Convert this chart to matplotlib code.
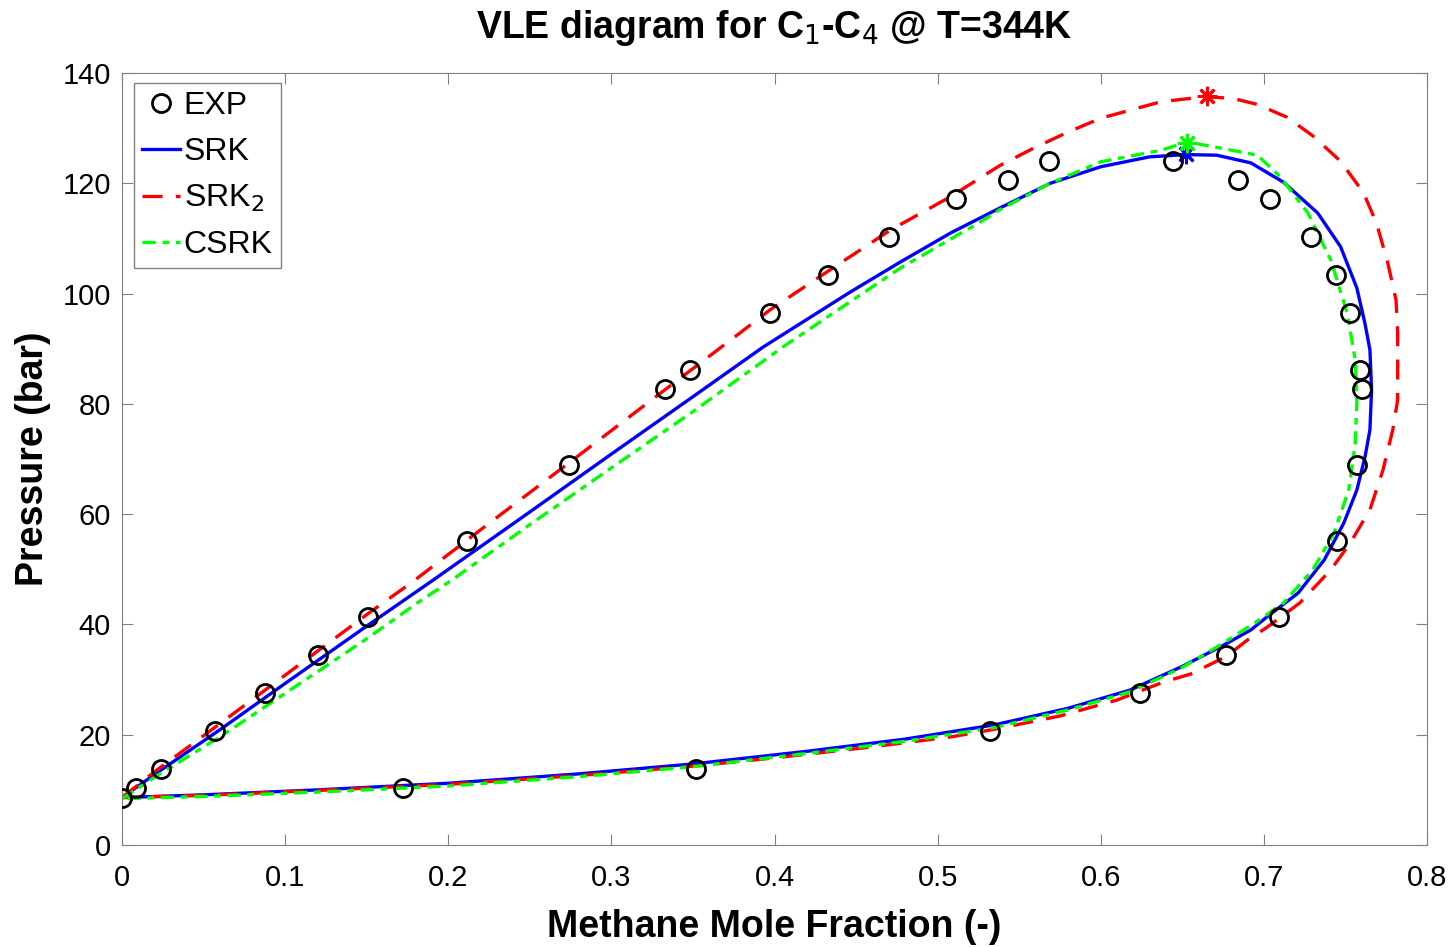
import numpy as np
import matplotlib
matplotlib.use("Agg")
import matplotlib.pyplot as plt

plt.rcParams['font.family'] = ['Liberation Sans', 'DejaVu Sans']

# Экспериментальные данные (мольная доля метана, давление в бар)
exp_x = [0.0, 0.0086, 0.024, 0.057, 0.0877, 0.120, 0.151, 0.2115, 0.274, 0.333, 0.348,
         0.397, 0.433, 0.470, 0.511, 0.543, 0.568, 0.644,
         0.684, 0.704, 0.729, 0.744, 0.753, 0.759, 0.760, 0.757, 0.745, 0.709, 0.677,
         0.624, 0.532, 0.352, 0.172]
exp_p = [8.5, 10.34, 13.79, 20.68, 27.58, 34.47, 41.37, 55.16, 68.95, 82.74, 86.18,
         96.53, 103.42, 110.32, 117.21, 120.66, 124.11, 124.11,
         120.66, 117.21, 110.32, 103.42, 96.53, 86.18, 82.74, 68.95, 55.16, 41.37, 34.47,
         27.58, 20.68, 13.79, 10.34]

# SRK: кривая кипения + кривая конденсации
srk_x = [0.0, 0.02, 0.06, 0.10, 0.15, 0.191, 0.25, 0.30, 0.35, 0.393, 0.446, 0.477,
         0.508, 0.538, 0.569, 0.600, 0.630, 0.652,
         0.671, 0.692, 0.712, 0.733, 0.747, 0.757, 0.762, 0.765, 0.766, 0.765, 0.762,
         0.757, 0.749, 0.737, 0.721, 0.702, 0.692, 0.675, 0.650, 0.618, 0.580, 0.535,
         0.48, 0.42, 0.35, 0.28, 0.20, 0.12, 0.05, 0.0]
srk_p = [8.6, 12.8, 20.9, 29.3, 39.7, 48.1, 60.4, 70.9, 81.3, 90.3, 100.2, 105.7,
         111.0, 115.5, 120.0, 123.0, 124.8, 125.2,
         125.1, 123.7, 120.2, 114.6, 108.5, 101.0, 94.5, 89.8, 82.5, 75.3, 70.4,
         64.4, 58.4, 51.7, 45.7, 41.4, 39.0, 36.2, 32.4, 28.1, 24.8, 21.8,
         19.2, 17.0, 14.7, 12.9, 11.2, 10.0, 9.1, 8.6]
srk_crit = (0.652, 125.3)

# SRK_2
srk2_x = [0.0, 0.02, 0.06, 0.10, 0.151, 0.178, 0.2115, 0.274, 0.333, 0.379, 0.397,
          0.434, 0.471, 0.508, 0.538, 0.559, 0.580, 0.600, 0.637, 0.664,
          0.681, 0.696, 0.714, 0.730, 0.747, 0.761, 0.769, 0.776, 0.781, 0.782, 0.782,
          0.782, 0.779, 0.773, 0.765, 0.753, 0.741, 0.722, 0.702, 0.690, 0.677,
          0.655, 0.638, 0.610, 0.575, 0.535, 0.508, 0.46, 0.40, 0.35, 0.28, 0.20,
          0.12, 0.05, 0.0]
srk2_p = [8.6, 13.3, 22.0, 30.8, 42.0, 47.7, 55.3, 69.3, 82.6, 92.9, 97.0,
          104.3, 111.5, 117.6, 123.2, 126.4, 129.3, 131.8, 134.8, 135.7,
          135.4, 134.3, 132.0, 128.6, 124.0, 118.3, 112.8, 105.5, 98.8, 93.0, 88.0,
          80.7, 75.3, 68.0, 60.8, 54.8, 49.9, 43.9, 39.5, 37.2, 34.2,
          31.0, 29.5, 26.3, 23.4, 21.0, 19.6, 17.8, 15.8, 14.3, 12.6, 11.0,
          9.9, 9.0, 8.6]
srk2_crit = (0.665, 135.8)

# CSRK
csrk_x = [0.0, 0.02, 0.06, 0.10, 0.15, 0.183, 0.201, 0.25, 0.30, 0.35, 0.405, 0.477,
          0.528, 0.538, 0.569, 0.600, 0.637, 0.653,
          0.675, 0.696, 0.710, 0.727, 0.741, 0.751, 0.756, 0.757, 0.756, 0.752, 0.743,
          0.730, 0.712, 0.695, 0.675, 0.650, 0.618, 0.580, 0.535, 0.48,
          0.42, 0.35, 0.28, 0.20, 0.12, 0.05, 0.0]
csrk_p = [8.4, 12.3, 19.6, 27.5, 37.4, 44.3, 47.8, 58.1, 68.4, 78.6, 90.3, 104.6,
          113.3, 115.2, 120.0, 123.9, 126.0, 127.5,
          126.3, 125.1, 121.2, 114.6, 106.1, 96.5, 88.0, 80.7, 72.9, 64.4, 56.6,
          49.9, 43.9, 40.4, 36.6, 32.2, 27.8, 24.5, 21.3, 18.8,
          16.6, 14.2, 12.4, 10.7, 9.6, 8.8, 8.4]
csrk_crit = (0.653, 127.3)

fig = plt.figure(figsize=(14.56, 9.47), dpi=100)
ax = fig.add_axes([0.0838, 0.1077, 0.8963, 0.8152])

ax.plot(exp_x, exp_p, 'o', color='k', markerfacecolor='none', markersize=13,
        markeredgewidth=2, label='EXP', zorder=4)
ax.plot(srk_x, srk_p, '-', color='#0000FF', linewidth=2.4, label='SRK')
ax.plot(srk2_x, srk2_p, '--', color='#FF0000', linewidth=2.4, dashes=(6, 4),
        label='SRK$_2$')
ax.plot(csrk_x, csrk_p, '-.', color='#00FF00', linewidth=2.4, dashes=(4, 2, 2, 2),
        label='CSRK')

# критические точки (звёздочка как в MATLAB)
star = (8, 2, 0)
ax.plot(*srk_crit, marker=star, color='#0000FF', markersize=14, markeredgewidth=2)
ax.plot(*srk2_crit, marker=star, color='#FF0000', markersize=14, markeredgewidth=2)
ax.plot(*csrk_crit, marker=star, color='#00FF00', markersize=14, markeredgewidth=2)

ax.set_xlim(0, 0.8)
ax.set_ylim(0, 140)
ax.set_xticks(np.arange(0, 0.81, 0.1))
ax.set_xticklabels(['0', '0.1', '0.2', '0.3', '0.4', '0.5', '0.6', '0.7', '0.8'])
ax.set_yticks(np.arange(0, 141, 20))
ax.tick_params(direction='in', top=True, right=True, labelsize=21, length=8,
               color='#808080')
ax.tick_params(axis='x', pad=14)
ax.tick_params(axis='y', pad=8)
for s in ax.spines.values():
    s.set_color('#808080')

ax.set_xlabel('Methane Mole Fraction (-)', fontsize=27, fontweight='bold', labelpad=12)
ax.set_ylabel('Pressure (bar)', fontsize=27, fontweight='bold', labelpad=8)
ax.set_title('VLE diagram for C$_1$-C$_4$ @ T=344K', fontsize=27, fontweight='bold',
             pad=25)

leg = ax.legend(loc='upper left', fontsize=23, handlelength=1.2, handletextpad=0.1,
                borderpad=0.25, labelspacing=0.5, fancybox=False, framealpha=1,
                borderaxespad=0, bbox_to_anchor=(0.0092, 0.987))
leg.get_frame().set_edgecolor('#808080')

plt.savefig('out.png', dpi=100)
